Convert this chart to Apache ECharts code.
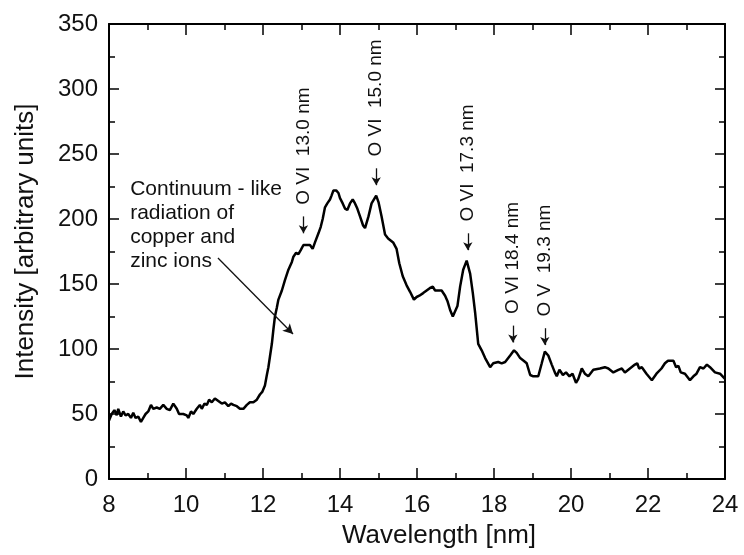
<!DOCTYPE html>
<html>
<head>
<meta charset="utf-8">
<script src="https://cdn.jsdelivr.net/npm/echarts@6/dist/echarts.min.js"></script>
<style>html,body{margin:0;padding:0;background:#fff}#c{width:744px;height:555px}</style>
</head>
<body>
<div id="c"></div>
<script>
const wavelength = [8.00,8.07,8.14,8.20,8.24,8.31,8.37,8.43,8.50,8.57,8.63,8.69,8.76,8.83,8.89,8.95,9.02,9.09,9.15,9.24,9.32,9.41,9.50,9.58,9.67,9.76,9.82,9.93,10.02,10.06,10.13,10.19,10.28,10.36,10.41,10.48,10.54,10.60,10.67,10.75,10.84,10.93,11.01,11.10,11.17,11.23,11.32,11.40,11.49,11.58,11.66,11.75,11.84,11.92,11.98,12.05,12.10,12.14,12.18,12.23,12.27,12.31,12.36,12.40,12.49,12.57,12.66,12.75,12.79,12.86,12.92,12.98,13.05,13.12,13.22,13.29,13.35,13.44,13.50,13.55,13.61,13.67,13.74,13.78,13.83,13.90,13.96,14.00,14.07,14.13,14.19,14.26,14.33,14.39,14.45,14.52,14.60,14.65,14.74,14.82,14.94,15.00,15.08,15.17,15.25,15.38,15.47,15.54,15.63,15.73,15.82,15.92,15.99,16.06,16.16,16.25,16.34,16.41,16.47,16.55,16.64,16.73,16.79,16.86,16.93,16.99,17.05,17.12,17.20,17.29,17.38,17.45,17.51,17.59,17.68,17.77,17.90,17.98,18.11,18.20,18.29,18.42,18.52,18.59,18.68,18.77,18.85,18.94,19.02,19.15,19.24,19.32,19.41,19.50,19.58,19.63,19.70,19.79,19.87,19.96,20.04,20.13,20.19,20.28,20.36,20.45,20.58,20.75,20.88,20.97,21.10,21.23,21.32,21.40,21.53,21.66,21.72,21.77,21.84,21.96,22.10,22.22,22.35,22.44,22.52,22.66,22.73,22.79,22.85,22.96,23.09,23.18,23.26,23.35,23.44,23.53,23.61,23.74,23.87,24.00];
const intensity = [45,50,53,49,54,48,52,49,50,47,51,47,48,44,47,50,52,57,54,55,54,57,54,53,58,54,50,50,49,47,52,50,54,57,54,58,57,61,59,62,60,58,59,56,58,57,56,54,54,57,59,59,61,65,67,72,80,86,94,104,115,125,132,138,145,153,161,167,171,174,173,176,180,180,180,177,182,189,194,200,209,212,215,218,222,222,220,216,212,208,207,212,215,212,208,202,195,193,202,212,218,213,202,188,185,182,177,166,156,149,144,138,140,141,143,145,147,148,145,145,145,141,137,130,125,129,133,148,161,168,158,143,128,104,99,93,86,89,90,89,90,95,99,97,93,91,89,80,79,79,89,98,95,88,82,79,84,80,82,79,81,74,77,85,81,79,84,85,86,85,82,84,85,82,85,88,89,85,86,81,76,81,85,89,91,91,86,87,82,81,76,79,81,86,85,88,86,82,81,77];

const lineLabels = ['O VI  13.0 nm','O VI  15.0 nm','O VI  17.3 nm','O VI 18.4 nm','O V  19.3 nm'];
const lineWavelengths = [13.05, 14.94, 17.32, 18.49, 19.32];
const lineTips = [189, 226, 176, 105, 103];
const noteText = 'Continuum - like\nradiation of\ncopper and\nzinc ions';

const FONT = '"Liberation Sans", Arial, Helvetica, sans-serif';
const chart = echarts.init(document.getElementById('c'), null, {renderer: 'canvas'});

const seriesData = wavelength.map((w, i) => [w, intensity[i]]);

const ARROW_LEN = 13;   // arrow length in intensity units
const TEXT_GAP = 22;    // from tip to start of text, in intensity units

const axisCommon = {
  type: 'value',
  axisLine: {show: true, onZero: false, lineStyle: {color: '#000', width: 2}},
  splitLine: {show: false},
};
const tickX = {show: true, inside: true, length: 11, lineStyle: {color: '#000', width: 1.5}};
const minorX = {show: true, splitNumber: 2, length: 6, lineStyle: {color: '#000', width: 1.5}};
const tickY = {show: true, inside: true, length: 10, lineStyle: {color: '#000', width: 1.5}};
const minorY = {show: true, splitNumber: 2, length: 6, lineStyle: {color: '#000', width: 1.5}};

const markPoints = lineLabels.map((t, i) => ({
  coord: [lineWavelengths[i], lineTips[i] + TEXT_GAP],
  label: {
    show: true, formatter: t, position: 'inside', rotate: 90,
    align: 'left', verticalAlign: 'middle',
    fontFamily: FONT, fontSize: 19, color: '#111'
  }
})).concat([{
  coord: [8.55, 232],
  label: {
    show: true, formatter: noteText, position: 'inside',
    align: 'left', verticalAlign: 'top', lineHeight: 24,
    fontFamily: FONT, fontSize: 21, color: '#111'
  }
}]);

const markLines = lineWavelengths.map((w, i) => [
  {coord: [w, lineTips[i] + ARROW_LEN], symbol: 'none'},
  {coord: [w, lineTips[i]], symbol: 'arrow', symbolSize: [7, 8]}
]).concat([[
  {coord: [10.83, 170], symbol: 'none'},
  {coord: [12.78, 111.5], symbol: 'arrow', symbolSize: [8, 10]}
]]);

const option = {
  animation: false,
  backgroundColor: '#fff',
  grid: {left: 109, right: 19, top: 24, bottom: 76, containLabel: false},
  xAxis: [
    Object.assign({}, axisCommon, {
      min: 8, max: 24, interval: 2, position: 'bottom',
      name: 'Wavelength [nm]', nameLocation: 'middle', nameGap: 44,
      nameTextStyle: {fontFamily: FONT, fontSize: 26, color: '#111', padding: [0, 0, 0, 44]},
      axisTick: tickX, minorTick: minorX,
      axisLabel: {fontFamily: FONT, fontSize: 24, color: '#111', margin: 14},
    }),
    Object.assign({}, axisCommon, {
      min: 8, max: 24, interval: 2, position: 'top',
      axisTick: tickX, minorTick: minorX,
      axisLabel: {show: false},
    })
  ],
  yAxis: [
    Object.assign({}, axisCommon, {
      min: 0, max: 350, interval: 50, position: 'left',
      name: 'Intensity [arbitrary units]', nameLocation: 'middle', nameGap: 70,
      nameTextStyle: {fontFamily: FONT, fontSize: 26, color: '#111', padding: [0, 0, 0, 20]},
      axisTick: tickY, minorTick: minorY,
      axisLabel: {fontFamily: FONT, fontSize: 24, color: '#111', margin: 11},
    }),
    Object.assign({}, axisCommon, {
      min: 0, max: 350, interval: 50, position: 'right',
      axisTick: tickY, minorTick: minorY,
      axisLabel: {show: false},
    })
  ],
  series: [{
    type: 'line',
    xAxisIndex: 0, yAxisIndex: 0,
    data: seriesData,
    showSymbol: false,
    symbol: 'none',
    lineStyle: {color: '#000', width: 2.5},
    silent: true,
    markPoint: {symbol: 'circle', symbolSize: 0, silent: true, data: markPoints},
    markLine: {
      silent: true, symbol: ['none', 'arrow'],
      label: {show: false},
      lineStyle: {color: '#111', width: 1.3, type: 'solid'},
      data: markLines
    }
  }]
};
chart.setOption(option);
</script>
</body>
</html>
